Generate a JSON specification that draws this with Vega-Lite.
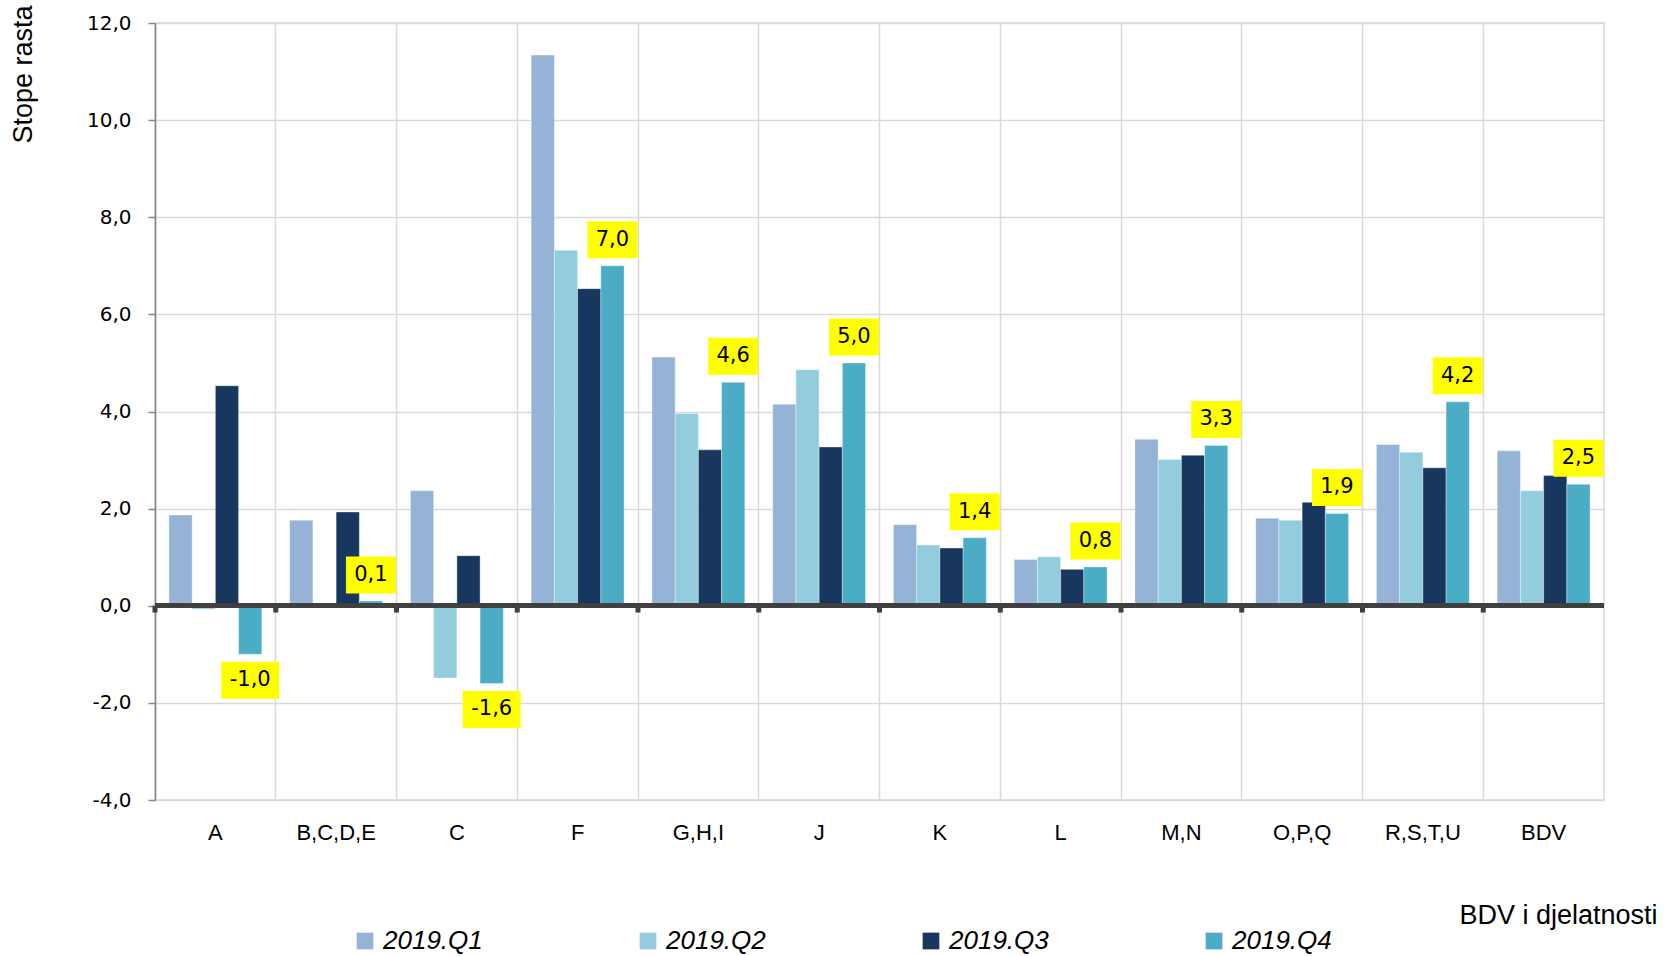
{
  "$schema": "https://vega.github.io/schema/vega-lite/v6.json",
  "width": 1449,
  "height": 777,
  "autosize": {"type": "none"},
  "padding": {"left": 155, "top": 23, "right": 73, "bottom": 156},
  "background": "white",
  "config": {
    "view": {"stroke": "#d9d9d9", "strokeWidth": 1.5},
    "font": "Liberation Sans",
    "locale": {"number": {"decimal": ",", "thousands": ".", "grouping": [3], "currency": ["", " €"], "minus": "-"}}
  },
  "data": {
    "values": [
      {"cat": "A", "series": "2019.Q1", "value": 1.87},
      {"cat": "A", "series": "2019.Q2", "value": -0.07},
      {"cat": "A", "series": "2019.Q3", "value": 4.53},
      {"cat": "A", "series": "2019.Q4", "value": -1.0},
      {"cat": "B,C,D,E", "series": "2019.Q1", "value": 1.76},
      {"cat": "B,C,D,E", "series": "2019.Q2", "value": 0.0},
      {"cat": "B,C,D,E", "series": "2019.Q3", "value": 1.93},
      {"cat": "B,C,D,E", "series": "2019.Q4", "value": 0.1},
      {"cat": "C", "series": "2019.Q1", "value": 2.37},
      {"cat": "C", "series": "2019.Q2", "value": -1.49},
      {"cat": "C", "series": "2019.Q3", "value": 1.03},
      {"cat": "C", "series": "2019.Q4", "value": -1.6},
      {"cat": "F", "series": "2019.Q1", "value": 11.34},
      {"cat": "F", "series": "2019.Q2", "value": 7.32},
      {"cat": "F", "series": "2019.Q3", "value": 6.53},
      {"cat": "F", "series": "2019.Q4", "value": 7.0},
      {"cat": "G,H,I", "series": "2019.Q1", "value": 5.12},
      {"cat": "G,H,I", "series": "2019.Q2", "value": 3.96},
      {"cat": "G,H,I", "series": "2019.Q3", "value": 3.21},
      {"cat": "G,H,I", "series": "2019.Q4", "value": 4.6},
      {"cat": "J", "series": "2019.Q1", "value": 4.15},
      {"cat": "J", "series": "2019.Q2", "value": 4.86},
      {"cat": "J", "series": "2019.Q3", "value": 3.27},
      {"cat": "J", "series": "2019.Q4", "value": 5.0},
      {"cat": "K", "series": "2019.Q1", "value": 1.67},
      {"cat": "K", "series": "2019.Q2", "value": 1.25},
      {"cat": "K", "series": "2019.Q3", "value": 1.19},
      {"cat": "K", "series": "2019.Q4", "value": 1.4},
      {"cat": "L", "series": "2019.Q1", "value": 0.95},
      {"cat": "L", "series": "2019.Q2", "value": 1.01},
      {"cat": "L", "series": "2019.Q3", "value": 0.75},
      {"cat": "L", "series": "2019.Q4", "value": 0.8},
      {"cat": "M,N", "series": "2019.Q1", "value": 3.43},
      {"cat": "M,N", "series": "2019.Q2", "value": 3.01},
      {"cat": "M,N", "series": "2019.Q3", "value": 3.1},
      {"cat": "M,N", "series": "2019.Q4", "value": 3.3},
      {"cat": "O,P,Q", "series": "2019.Q1", "value": 1.8},
      {"cat": "O,P,Q", "series": "2019.Q2", "value": 1.76},
      {"cat": "O,P,Q", "series": "2019.Q3", "value": 2.13},
      {"cat": "O,P,Q", "series": "2019.Q4", "value": 1.9},
      {"cat": "R,S,T,U", "series": "2019.Q1", "value": 3.32},
      {"cat": "R,S,T,U", "series": "2019.Q2", "value": 3.16},
      {"cat": "R,S,T,U", "series": "2019.Q3", "value": 2.84},
      {"cat": "R,S,T,U", "series": "2019.Q4", "value": 4.2},
      {"cat": "BDV", "series": "2019.Q1", "value": 3.19},
      {"cat": "BDV", "series": "2019.Q2", "value": 2.37},
      {"cat": "BDV", "series": "2019.Q3", "value": 2.68},
      {"cat": "BDV", "series": "2019.Q4", "value": 2.5}
    ]
  },
  "layer": [
    {
      "mark": {"type": "bar", "stroke": "white", "strokeWidth": 0.6, "strokeOpacity": 0.6},
      "encoding": {
        "x": {
          "field": "cat", "type": "nominal", "sort": null,
          "scale": {"paddingInner": 0, "paddingOuter": 0},
          "axis": {
            "title": "BDV i djelatnosti",
            "grid": true, "gridColor": "#d9d9d9", "gridWidth": 1.5,
            "bandPosition": 0, "tickExtra": true,
            "ticks": false, "domain": false,
            "labelAngle": 0, "labelFont": "Liberation Sans", "labelFontSize": 22, "labelColor": "#000000", "labelPadding": 22,
            "titleFont": "Liberation Sans", "titleFontSize": 27, "titleFontWeight": "normal", "titleColor": "#000000",
            "titleAnchor": "end", "titleAlign": "right", "titleBaseline": "middle", "titleX": 1502, "titleY": 115
          }
        },
        "xOffset": {
          "field": "series", "type": "nominal",
          "scale": {"domain": ["2019.Q1", "2019.Q2", "2019.Q3", "2019.Q4"], "paddingInner": 0, "paddingOuter": 0.6}
        },
        "y": {
          "field": "value", "type": "quantitative",
          "scale": {"domain": [-4, 12], "nice": false, "zero": false},
          "axis": {
            "title": "Stope rasta",
            "values": [-4, -2, 0, 2, 4, 6, 8, 10, 12],
            "format": ".1f",
            "grid": true, "gridColor": "#d9d9d9", "gridWidth": 1.5,
            "domainColor": "#868686", "domainWidth": 1.5,
            "tickColor": "#868686", "tickSize": 7, "tickWidth": 1.5,
            "labelFont": "DejaVu Sans", "labelFontSize": 20, "labelColor": "#000000", "labelPadding": 17,
            "titleFont": "Liberation Sans", "titleFontSize": 27, "titleFontWeight": "normal", "titleColor": "#000000",
            "titleAngle": -90, "titleX": -132, "titleY": -18, "titleAlign": "right", "titleBaseline": "middle"
          }
        },
        "color": {
          "field": "series", "type": "nominal",
          "scale": {"domain": ["2019.Q1", "2019.Q2", "2019.Q3", "2019.Q4"], "range": ["#95b3d7", "#93cddd", "#17375e", "#4bacc6"]},
          "legend": {
            "title": null, "orient": "none", "legendX": 197, "legendY": 905, "direction": "horizontal",
            "symbolType": "square", "symbolSize": 280, "symbolStrokeWidth": 0,
            "labelFont": "Liberation Sans", "labelFontSize": 26, "labelFontStyle": "italic", "labelColor": "#000000",
            "labelOffset": 5, "columnPadding": 152
          }
        }
      }
    },
    {
      "mark": {"type": "rule", "color": "#404040", "strokeWidth": 4},
      "encoding": {"y": {"datum": 0, "type": "quantitative"}}
    },
    {
      "transform": [{"filter": "datum.series === '2019.Q1'"}],
      "mark": {"type": "rule", "color": "#404040", "strokeWidth": 5},
      "encoding": {
        "x": {"field": "cat", "type": "nominal", "sort": null, "bandPosition": 0},
        "y": {"datum": 0, "type": "quantitative"},
        "y2": {"datum": -0.14}
      }
    },
    {
      "transform": [{"filter": "datum.series === '2019.Q4' && datum.value >= 0"}],
      "mark": {"type": "point", "shape": "M-1,-0.74L1,-0.74L1,0.74L-1,0.74Z", "filled": true, "color": "#ffff00", "opacity": 1, "size": 2500, "yOffset": -26},
      "encoding": {
        "x": {"field": "cat", "type": "nominal", "sort": null},
        "xOffset": {"field": "series", "type": "nominal"},
        "y": {"field": "value", "type": "quantitative"}
      }
    },
    {
      "transform": [{"filter": "datum.series === '2019.Q4' && datum.value >= 0"}],
      "mark": {"type": "text", "font": "DejaVu Sans", "fontSize": 21, "color": "#000000", "baseline": "middle", "align": "center", "yOffset": -26},
      "encoding": {
        "x": {"field": "cat", "type": "nominal", "sort": null},
        "xOffset": {"field": "series", "type": "nominal"},
        "y": {"field": "value", "type": "quantitative"},
        "text": {"field": "value", "type": "quantitative", "format": ".1f"}
      }
    },
    {
      "transform": [{"filter": "datum.series === '2019.Q4' && datum.value < 0"}],
      "mark": {"type": "point", "shape": "M-1,-0.64L1,-0.64L1,0.64L-1,0.64Z", "filled": true, "color": "#ffff00", "opacity": 1, "size": 3364, "yOffset": 26},
      "encoding": {
        "x": {"field": "cat", "type": "nominal", "sort": null},
        "xOffset": {"field": "series", "type": "nominal"},
        "y": {"field": "value", "type": "quantitative"}
      }
    },
    {
      "transform": [{"filter": "datum.series === '2019.Q4' && datum.value < 0"}],
      "mark": {"type": "text", "font": "DejaVu Sans", "fontSize": 21, "color": "#000000", "baseline": "middle", "align": "center", "yOffset": 26},
      "encoding": {
        "x": {"field": "cat", "type": "nominal", "sort": null},
        "xOffset": {"field": "series", "type": "nominal"},
        "y": {"field": "value", "type": "quantitative"},
        "text": {"field": "value", "type": "quantitative", "format": ".1f"}
      }
    }
  ]
}
